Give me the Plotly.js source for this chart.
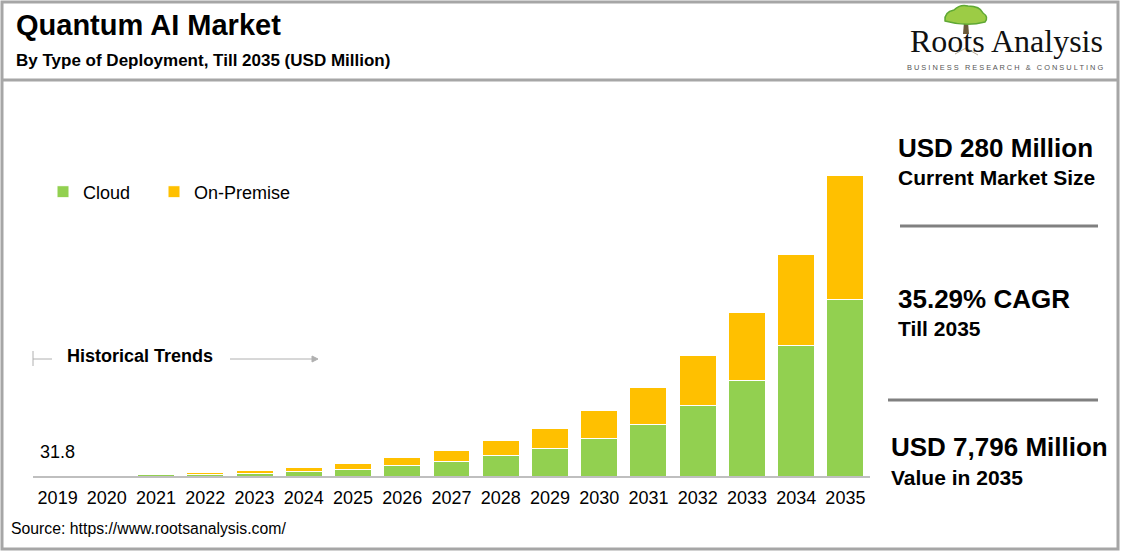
<!DOCTYPE html>
<html>
<head>
<meta charset="utf-8">
<script src="https://cdn.plot.ly/plotly-3.0.1.min.js"></script>
<style>
html,body{margin:0;padding:0;background:#fff;}
#chart{width:1123px;height:553px;}
</style>
</head>
<body>
<div id="chart"></div>
<script>
// ---- data ----
var years = ["2019","2020","2021","2022","2023","2024","2025","2026","2027","2028","2029","2030","2031","2032","2033","2034","2035"];
var cloud = [18, 24, 32, 45, 70, 122, 180, 277, 370, 526, 707, 966, 1329, 1821, 2479, 3385, 4577];
var onPremise = [13.8, 18, 24, 40, 60, 93, 140, 215, 303, 381, 536, 718, 976, 1313, 1769, 2365, 3219];
var seriesNames = ["Cloud", "On-Premise"];
var firstLabel = "31.8";

var W = 1123, H = 553;
function px(x){ return x / W; }
function py(y){ return 1 - y / H; }
var FONT = "Arial, 'Liberation Sans', sans-serif";

var traces = [
  {type:"bar", name:seriesNames[0], x:years, y:cloud, legend:"legend",
   marker:{color:"#92d050", line:{color:"#ffffff", width:1}}, hoverinfo:"x+y"},
  {type:"bar", name:seriesNames[1], x:years, y:onPremise, legend:"legend2",
   marker:{color:"#ffc000", line:{color:"#ffffff", width:1}}, hoverinfo:"x+y"}
];

var grayLine = "#a6a6a6";
var shapes = [
  // outer frame
  {type:"rect", xref:"paper", yref:"paper", x0:px(2), x1:px(1118), y0:py(2), y1:py(549), line:{color:grayLine, width:3}, fillcolor:"rgba(0,0,0,0)", layer:"above"},
  // header divider
  {type:"line", xref:"paper", yref:"paper", x0:px(2), x1:px(1118), y0:py(80), y1:py(80), line:{color:grayLine, width:3}},
  // right panel separators
  {type:"line", xref:"paper", yref:"paper", x0:px(900), x1:px(1098), y0:py(226), y1:py(226), line:{color:"#808080", width:3}},
  {type:"line", xref:"paper", yref:"paper", x0:px(888), x1:px(1098), y0:py(400), y1:py(400), line:{color:"#808080", width:3}},
  // historical trends bracket
  {type:"line", xref:"paper", yref:"paper", x0:px(33), x1:px(33), y0:py(351), y1:py(366), line:{color:"#b0b0b0", width:1}},
  {type:"line", xref:"paper", yref:"paper", x0:px(33), x1:px(52), y0:py(359), y1:py(359), line:{color:"#b0b0b0", width:1}},
  {type:"line", xref:"paper", yref:"paper", x0:px(230), x1:px(314), y0:py(359), y1:py(359), line:{color:"#b0b0b0", width:1}},
  {type:"path", xref:"paper", yref:"paper", path:"M "+px(312)+" "+py(356)+" L "+px(318)+" "+py(359)+" L "+px(312)+" "+py(362)+" Z", fillcolor:"#b0b0b0", line:{color:"#b0b0b0", width:1}},
  // logo tree (trunk, canopy)
  {type:"path", xref:"paper", yref:"paper", path:"M "+px(964)+" "+py(22)+" L "+px(968)+" "+py(22)+" L "+px(969)+" "+py(34)+" L "+px(963)+" "+py(34)+" Z", fillcolor:"#6b5a3a", line:{color:"#6b5a3a", width:0}},
  {type:"path", xref:"paper", yref:"paper",
   path:"M "+px(945)+" "+py(21)+" Q "+px(944)+" "+py(12)+" "+px(954)+" "+py(10)+" Q "+px(960)+" "+py(4)+" "+px(968)+" "+py(6)+" Q "+px(980)+" "+py(6)+" "+px(983)+" "+py(13)+" Q "+px(989)+" "+py(17)+" "+px(985)+" "+py(22)+" Q "+px(966)+" "+py(27)+" "+px(945)+" "+py(21)+" Z",
   fillcolor:"#9ccc45", line:{color:"#5fa834", width:1.5}},
  // roots
  {type:"line", xref:"paper", yref:"paper", x0:px(966), x1:px(955), y0:py(48), y1:py(54), line:{color:"#b8ad98", width:1}},
  {type:"line", xref:"paper", yref:"paper", x0:px(966), x1:px(978), y0:py(48), y1:py(55), line:{color:"#b8ad98", width:1}}
];

var annotations = [
  {text:"<b>Quantum AI Market</b>", x:px(14), y:py(25), xanchor:"left", yanchor:"middle", font:{size:29, color:"#000", family:FONT}},
  {text:"<b>By Type of Deployment, Till 2035 (USD Million)</b>", x:px(14), y:py(60), xanchor:"left", yanchor:"middle", font:{size:17, color:"#000", family:FONT}},
  {text:"Roots Analysis", x:px(1006), y:py(41), xanchor:"center", yanchor:"middle", font:{size:32, color:"#111", family:"'Liberation Serif', 'DejaVu Serif', serif"}},
  {text:"B U S I N E S S   R E S E A R C H   &   C O N S U L T I N G", x:px(1005), y:py(67), xanchor:"center", yanchor:"middle", font:{size:7.4, color:"#555", family:FONT}},
  {text:"<b>USD 280 Million</b>", x:px(896), y:py(148), xanchor:"left", yanchor:"middle", font:{size:26, color:"#000", family:FONT}},
  {text:"<b>Current Market Size</b>", x:px(896), y:py(177), xanchor:"left", yanchor:"middle", font:{size:21, color:"#000", family:FONT}},
  {text:"<b>35.29% CAGR</b>", x:px(896), y:py(299), xanchor:"left", yanchor:"middle", font:{size:26, color:"#000", family:FONT}},
  {text:"<b>Till 2035</b>", x:px(896), y:py(328), xanchor:"left", yanchor:"middle", font:{size:21, color:"#000", family:FONT}},
  {text:"<b>USD 7,796 Million</b>", x:px(889), y:py(447), xanchor:"left", yanchor:"middle", font:{size:26, color:"#000", family:FONT}},
  {text:"<b>Value in 2035</b>", x:px(889), y:py(477), xanchor:"left", yanchor:"middle", font:{size:21, color:"#000", family:FONT}},
  {text:"<b>Historical Trends</b>", x:px(65), y:py(356), xanchor:"left", yanchor:"middle", font:{size:18, color:"#000", family:FONT}},
  {text:firstLabel, x:years.indexOf(years[0]), xref:"x", y:py(452), yref:"paper", xanchor:"center", yanchor:"middle", font:{size:18, color:"#000", family:FONT}},
  {text:"Source: https://www.rootsanalysis.com/", x:px(9), y:py(528), xanchor:"left", yanchor:"middle", font:{size:15.8, color:"#000", family:FONT}}
];
annotations.forEach(function(a){ if(!a.xref) a.xref="paper"; if(!a.yref) a.yref="paper"; a.showarrow=false; });

var legendBase = {orientation:"h", yanchor:"middle", bgcolor:"rgba(0,0,0,0)",
                  font:{size:18, color:"#000", family:FONT}};

var layout = {
  width:W, height:H,
  margin:{l:0, r:0, t:0, b:0},
  paper_bgcolor:"#fff", plot_bgcolor:"#fff",
  barmode:"stack", bargap:0.25,
  font:{family:FONT, color:"#000"},
  xaxis:{domain:[px(33), px(870)], type:"category", range:[-0.5, years.length-0.5], showline:true, linecolor:"#bfbfbf", linewidth:2,
         showgrid:false, zeroline:false, ticks:"", ticklabelstandoff:4, tickfont:{size:18, color:"#000", family:FONT}, fixedrange:true},
  yaxis:{domain:[py(476), py(100)], range:[0, 9740], visible:false, showgrid:false, zeroline:false, fixedrange:true},
  showlegend:true,
  legend:Object.assign({}, legendBase, {x:px(43), y:py(192), xanchor:"left"}),
  legend2:Object.assign({}, legendBase, {x:px(154), y:py(192), xanchor:"left"}),
  shapes:shapes,
  annotations:annotations
};

Plotly.newPlot("chart", traces, layout, {displayModeBar:false, staticPlot:true});
</script>
</body>
</html>
